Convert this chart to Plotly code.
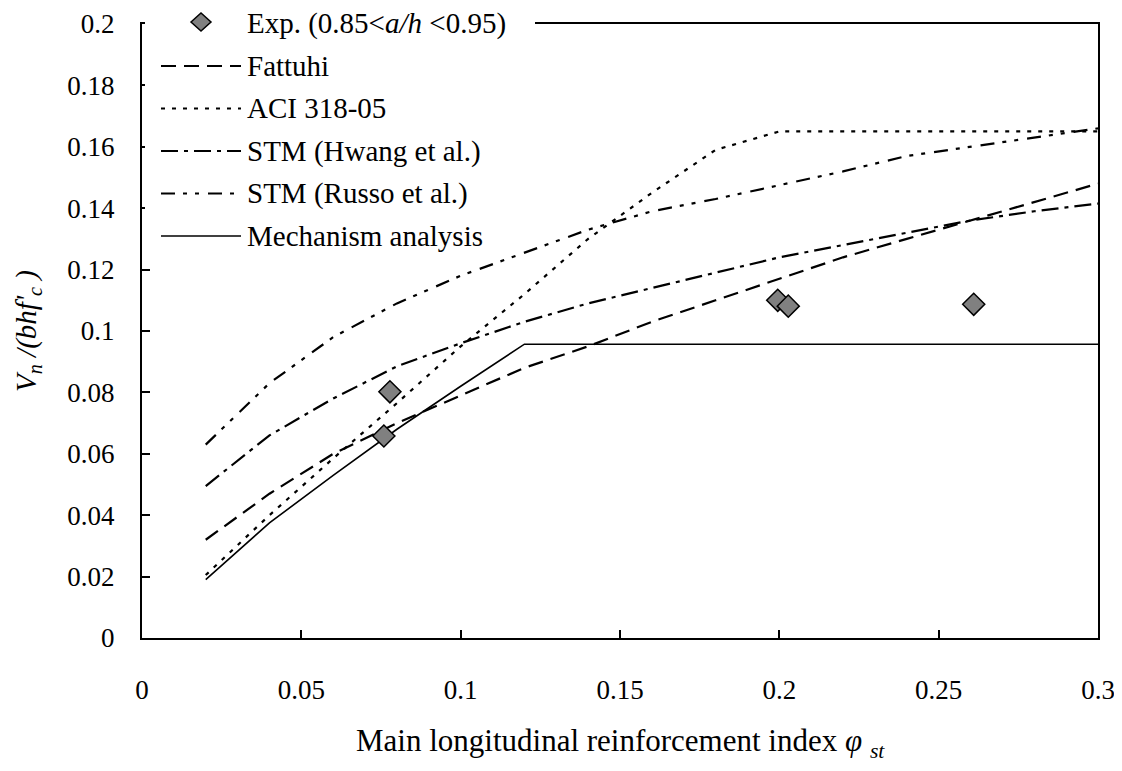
import plotly.graph_objects as go

# ---------------- data ----------------
phi = [0.02, 0.04, 0.06, 0.08, 0.10, 0.12, 0.14, 0.16, 0.18, 0.20, 0.22, 0.24, 0.26, 0.28, 0.30]
fattuhi = [0.032, 0.047, 0.060, 0.070, 0.079, 0.088, 0.095, 0.103, 0.110, 0.117, 0.124, 0.130, 0.136, 0.142, 0.148]
aci = [0.0205, 0.040, 0.0585, 0.0765, 0.095, 0.112, 0.130, 0.145, 0.159, 0.165, 0.165, 0.165, 0.165, 0.165, 0.165]
hwang = [0.0495, 0.066, 0.078, 0.0885, 0.096, 0.103, 0.109, 0.114, 0.119, 0.124, 0.128, 0.132, 0.136, 0.139, 0.1415]
russo = [0.063, 0.083, 0.098, 0.109, 0.118, 0.1255, 0.133, 0.139, 0.143, 0.1475, 0.152, 0.157, 0.160, 0.163, 0.166]
mechanism = [0.019, 0.0375, 0.053, 0.068, 0.082, 0.0957, 0.0957, 0.0957, 0.0957, 0.0957, 0.0957, 0.0957, 0.0957, 0.0957, 0.0957]

exp_phi = [0.0759, 0.0778, 0.1995, 0.2028, 0.261]
exp_v = [0.0658, 0.0802, 0.110, 0.1081, 0.1087]

legend_labels = ["Exp. (0.85&lt;<i>a/h</i> &lt;0.95)", "Fattuhi", "ACI 318-05",
                 "STM (Hwang et al.)", "STM (Russo et al.)", "Mechanism analysis"]

x_ticks = [0, 0.05, 0.1, 0.15, 0.2, 0.25, 0.3]
y_ticks = [0, 0.02, 0.04, 0.06, 0.08, 0.1, 0.12, 0.14, 0.16, 0.18, 0.2]

# ---------------- layout constants ----------------
W, H = 1122, 771
OFF = 8  # page body margin offset
# desired on-screen plot area: x 142..1098, y 24..638
L = 142 - OFF
T = 24 - OFF
R = W - (1098 - OFF)
B = H - (638 - OFF)
PW, PH = W - L - R, H - T - B
FONT = "Liberation Serif"


def px(xs):
    """screen x pixel -> paper"""
    return (xs - 142) / PW


def py(ys):
    """screen y pixel -> paper"""
    return (638 - ys) / PH


styles = {
    "Fattuhi": dict(dash="15px,8px", width=2.2),
    "ACI": dict(dash="4px,7px", width=2.2),
    "Hwang": dict(dash="17px,6px,4px,6px", width=2.2),
    "Russo": dict(dash="14px,8px,4px,8px,4px,9px", width=2.2),
    "Mech": dict(dash="solid", width=1.6),
}

fig = go.Figure()
series = [("Fattuhi", fattuhi), ("ACI", aci), ("Hwang", hwang), ("Russo", russo), ("Mech", mechanism)]
for name, ys in series:
    st = styles[name]
    fig.add_trace(go.Scatter(x=phi, y=ys, mode="lines", name=name, showlegend=False,
                             line=dict(color="black", width=st["width"], dash=st["dash"])))

fig.add_trace(go.Scatter(x=exp_phi, y=exp_v, mode="markers", showlegend=False, cliponaxis=False,
                         marker=dict(symbol="diamond", size=17, color="#808080",
                                     line=dict(color="black", width=1.5))))

shapes = []
annotations = []

# legend background (covers top border)
shapes.append(dict(type="rect", xref="paper", yref="paper", layer="above",
                   x0=px(145), x1=px(535), y0=py(246), y1=py(10),
                   fillcolor="white", line=dict(width=0)))

row_y = [23, 66, 108.5, 151, 193.5, 236]
line_x0, line_x1 = 161, 241
text_x = 245

# diamond symbol in legend
cx, cy = 201, row_y[0] - 1
shapes.append(dict(type="path", xref="paper", yref="paper", layer="above",
                   path=f"M{px(cx-10)},{py(cy)} L{px(cx)},{py(cy-9)} L{px(cx+10)},{py(cy)} L{px(cx)},{py(cy+9)} Z",
                   fillcolor="#808080", line=dict(color="black", width=1.5)))
legend_styles = ["Fattuhi", "ACI", "Hwang", "Russo", "Mech"]
for i, key in enumerate(legend_styles):
    st = styles[key]
    yy = row_y[i + 1]
    shapes.append(dict(type="line", xref="paper", yref="paper", layer="above",
                       x0=px(line_x0), x1=px(line_x1), y0=py(yy), y1=py(yy),
                       line=dict(color="black", width=st["width"], dash=st["dash"])))
for i, lab in enumerate(legend_labels):
    annotations.append(dict(xref="paper", yref="paper", x=px(text_x), y=py(row_y[i]),
                            xanchor="left", yanchor="middle", showarrow=False, text=lab,
                            font=dict(family=FONT, size=29, color="black")))

# axis titles
annotations.append(dict(xref="paper", yref="paper", x=px(28), y=0.5, textangle=-90,
                        xanchor="center", yanchor="middle", showarrow=False,
                        text="<i>V<sub>n</sub> /(bhf'<sub>c</sub> )</i>",
                        font=dict(family=FONT, size=29, color="black")))
annotations.append(dict(xref="paper", yref="paper", x=0.5, y=py(743),
                        xanchor="center", yanchor="middle", showarrow=False,
                        text="Main longitudinal reinforcement index <i>φ <sub>st</sub></i>",
                        font=dict(family=FONT, size=31, color="black")))

fig.update_layout(
    width=W, height=H, margin=dict(l=L, r=R, t=T, b=B, autoexpand=False),
    paper_bgcolor="white", plot_bgcolor="white",
    font=dict(family=FONT, size=27, color="black"),
    shapes=shapes, annotations=annotations, showlegend=False,
)
fig.update_xaxes(range=[0, 0.3], tickvals=x_ticks, ticks="inside", ticklen=8, tickwidth=2,
                 tickcolor="black", showline=True, linewidth=2, linecolor="black", mirror=True,
                 showgrid=False, zeroline=False, ticklabelstandoff=27, automargin=False,
                 tickfont=dict(family=FONT, size=27))
fig.update_yaxes(range=[0, 0.2], tickvals=y_ticks, ticks="inside", ticklen=8, tickwidth=2,
                 tickcolor="black", showline=True, linewidth=2, linecolor="black", mirror=True,
                 showgrid=False, zeroline=False, ticklabelstandoff=20, automargin=False,
                 tickfont=dict(family=FONT, size=27))

fig.write_html("out.html")
